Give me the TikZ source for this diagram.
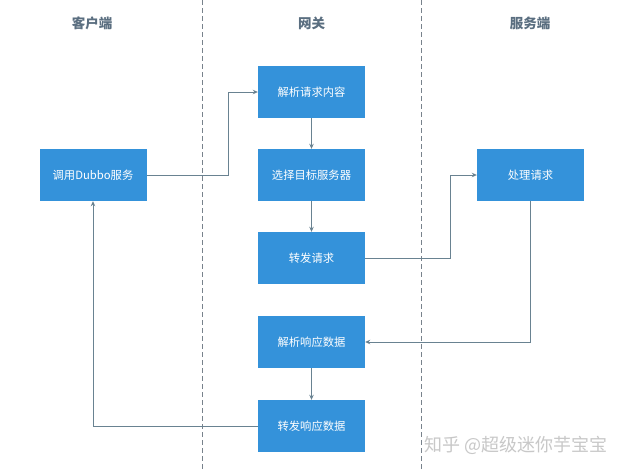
\documentclass[tikz,border=0pt]{standalone}
\usepackage{fontspec}
\setmainfont{Noto Sans CJK SC}
\usetikzlibrary{arrows.meta,positioning}
\definecolor{boxblue}{RGB}{52,146,218}
\definecolor{linegray}{RGB}{105,130,145}
\definecolor{headgray}{RGB}{90,110,128}
\definecolor{dashgray}{RGB}{120,130,140}
\definecolor{wmgray}{RGB}{200,200,200}
\begin{document}
\begin{tikzpicture}[x=1pt,y=-1pt,
  stepbox/.style={fill=boxblue,text=white,minimum width=107pt,minimum height=52pt,inner sep=0pt,font=\fontsize{11.3}{13}\selectfont},
  head/.style={text=headgray,font=\fontsize{13.5}{15}\selectfont\bfseries},
  conn/.style={draw=linegray,line width=0.8pt,-{Stealth[length=5pt,width=4.5pt]}},
  lane/.style={draw=dashgray,line width=0.7pt,dash pattern=on 5pt off 3pt}]
\useasboundingbox (0,0) rectangle (620,471);
\fill[white] (0,0) rectangle (620,471);
\coordinate (l1t) at (202,0); \coordinate (l1b) at (202,471);
\coordinate (l2t) at (421,0); \coordinate (l2b) at (421,471);
\draw[lane] (l1t) -- (l1b);
\draw[lane] (l2t) -- (l2b);
\node[head] (h1) at (92,23) {客户端};
\node[head] (h2) at (311.5,23) {网关};
\node[head] (h3) at (530,23) {服务端};
\node[stepbox] (a) at (311.5,92) {解析请求内容};
\node[stepbox] (c) at (93,175) {调用Dubbo服务};
\node[stepbox] (b) at (311.5,175) {选择目标服务器};
\node[stepbox] (s) at (530.5,175) {处理请求};
\node[stepbox] (d) at (311.5,258) {转发请求};
\node[stepbox] (e) at (311.5,342) {解析响应数据};
\node[stepbox] (f) at (311.5,426) {转发响应数据};
\draw[conn] (c.east) -- (228,175) |- (a.west);
\draw[conn] (a) -- (b);
\draw[conn] (b) -- (d);
\draw[conn] (d.east) -- (450,258) |- (s.west);
\draw[conn] (s.south) |- (e.east);
\draw[conn] (e) -- (f);
\draw[conn] (f.west) -| (c.south);
\node[text=wmgray,font=\fontsize{18}{20}\selectfont,anchor=east] (wm) at (611,445) {知乎 @超级迷你芋宝宝};
\end{tikzpicture}
\end{document}
